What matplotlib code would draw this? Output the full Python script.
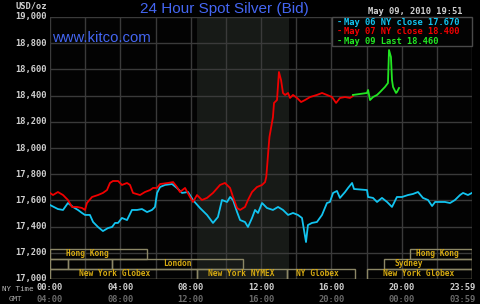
import matplotlib
matplotlib.use("Agg")
import matplotlib.pyplot as plt
from matplotlib.patches import Rectangle

# ---------------- data (hours since 00:00 NY time, USD/oz) ----------------
cyan_h = [0, 0.45, 0.74, 1.02, 1.31, 1.59, 1.82, 1.99, 2.27, 2.45, 2.73, 3.01, 3.30, 3.53,
          3.70, 3.87, 4.09, 4.38, 4.66, 4.95, 5.23, 5.52, 5.80, 5.97, 6.09, 6.26, 6.54, 6.94,
          7.22, 7.51, 7.85, 8.13, 8.53, 8.93, 9.27, 9.55, 9.78, 10.07, 10.24, 10.41, 10.64,
          10.81, 11.09, 11.26, 11.49, 11.66, 11.83, 12.06, 12.34, 12.68, 12.97, 13.25, 13.54,
          13.82, 14.10, 14.33, 14.56, 14.67, 14.90, 15.18, 15.47, 15.75, 15.92, 16.10, 16.32,
          16.49, 16.78, 16.95, 17.18, 17.29, 18.03, 18.09, 18.37, 18.60, 18.88, 19.17, 19.45,
          19.73, 20.02, 20.36, 20.64, 20.93, 21.21, 21.50, 21.73, 21.90, 22.18, 22.46, 22.75,
          23.03, 23.32, 23.49, 23.77, 24.0]
cyan_v = [17565, 17534, 17527, 17580, 17550, 17527, 17504, 17489, 17489, 17435, 17397, 17366,
          17389, 17397, 17428, 17428, 17466, 17450, 17527, 17527, 17534, 17511, 17527, 17550,
          17657, 17702, 17718, 17725, 17695, 17657, 17664, 17603, 17542, 17489, 17428, 17473,
          17603, 17588, 17626, 17603, 17511, 17450, 17435, 17397, 17466, 17527, 17504, 17580,
          17542, 17527, 17550, 17527, 17489, 17504, 17489, 17466, 17282, 17412, 17428, 17435,
          17489, 17580, 17588, 17657, 17672, 17619, 17664, 17695, 17733, 17687, 17679, 17626,
          17619, 17588, 17619, 17588, 17550, 17626, 17626, 17641, 17649, 17664, 17619, 17603,
          17557, 17588, 17588, 17588, 17580, 17603, 17641, 17657, 17641, 17657]

red_h = [0, 0.17, 0.45, 0.74, 1.02, 1.25, 1.54, 1.82, 1.99, 2.10, 2.39, 2.73, 3.01, 3.24,
         3.41, 3.58, 3.87, 4.09, 4.38, 4.55, 4.72, 5.12, 5.40, 5.69, 5.86, 6.09, 6.26, 6.71,
         7.00, 7.22, 7.39, 7.68, 7.96, 8.13, 8.36, 8.64, 8.93, 9.27, 9.67, 9.95, 10.24, 10.41,
         10.64, 10.81, 11.09, 11.26, 11.49, 11.77, 12.06, 12.23, 12.30, 12.36, 12.42, 12.48,
         12.55, 12.68, 12.74, 12.91, 13.02, 13.14, 13.25, 13.37, 13.54, 13.65, 13.82, 14.05,
         14.28, 14.50, 14.79, 15.18, 15.47, 15.75, 16.04, 16.27, 16.49, 16.78, 17.06, 17.23]
red_v = [17657, 17641, 17664, 17641, 17603, 17550, 17550, 17542, 17527, 17580, 17626, 17641,
         17657, 17679, 17733, 17748, 17748, 17718, 17733, 17718, 17657, 17641, 17664, 17679,
         17695, 17695, 17725, 17733, 17740, 17702, 17664, 17695, 17626, 17588, 17641, 17603,
         17619, 17657, 17718, 17733, 17695, 17626, 17542, 17527, 17550, 17603, 17664, 17702,
         17718, 17740, 17780, 17880, 17985, 18084, 18137, 18237, 18344, 18366, 18580, 18519,
         18420, 18405, 18420, 18382, 18405, 18382, 18351, 18366, 18389, 18405, 18420, 18405,
         18389, 18344, 18382, 18389, 18382, 18397]

green_h = [17.23, 18.03, 18.09, 18.20, 18.37, 18.60, 18.77, 19.05, 19.22, 19.28, 19.39,
           19.45, 19.51, 19.68, 19.73, 19.85]
green_v = [18405, 18420, 18443, 18366, 18389, 18405, 18427, 18466, 18496, 18748, 18695,
           18519, 18466, 18420, 18427, 18458]

legend_labels = ["May 06 NY close 17.670", "May 07 NY close 18.400", "May 09 Last 18.460"]

y_ticks = [17000, 17200, 17400, 17600, 17800, 18000, 18200, 18400, 18600, 18800, 19000]
x_ticks = [0, 4, 8, 12, 16, 20, 24]
ny_labels = ["00:00", "04:00", "08:00", "12:00", "16:00", "20:00", "23:59"]
gmt_labels = ["04:00", "08:00", "12:00", "16:00", "20:00", "00:00", "03:59"]

# trading sessions: (row, start hour, end hour, label, label centre hour)
sessions = [
    (0, 0.0, 5.5, "Hong Kong", 2.13),
    (0, 20.5, 24.0, "Hong Kong", 22.04),
    (1, 0.0, 1.0, "", 0.5),
    (1, 1.0, 3.5, "", 2.25),
    (1, 3.5, 11.0, "London", 7.22),
    (1, 19.0, 24.0, "Sydney", 20.42),
    (2, 0.0, 8.35, "New York Globex", 3.67),
    (2, 8.35, 13.5, "New York NYMEX", 10.9),
    (2, 13.5, 17.35, "NY Globex", 15.2),
    (2, 18.0, 24.0, "New York Globex", 20.96),
]
row_bounds = [(17155, 17230), (17078, 17155), (17000, 17078)]
nymex_shade = (8.35, 13.6)

# ---------------- figure ----------------
W, H = 480, 304
fig = plt.figure(figsize=(W / 100, H / 100), dpi=100, facecolor="black")
ax = fig.add_axes([50 / W, 1 - 279 / H, 422 / W, 262 / H], facecolor="#030303")

def fx(x):
    return x / W

def fy(y):
    return 1 - y / H

ax.set_xlim(0, 24)
ax.set_ylim(17000, 19000)
for s in ax.spines.values():
    s.set_visible(False)
ax.set_xticks([])
ax.set_yticks([])

grid_c = "#3a3a3a"
for h in range(0, 25, 2):
    ax.axvline(h, color=grid_c, lw=1.0, zorder=1)
for v in y_ticks:
    ax.axhline(v, color=grid_c, lw=1.0, zorder=1)

ax.axvspan(nymex_shade[0], nymex_shade[1], color="#171a17", zorder=0.5, lw=0)

# sessions
box_edge = "#8c8766"
text_gold = "#d6aa12"
for row, h0, h1, lab, hc in sessions:
    lo, hi = row_bounds[row]
    ax.add_patch(Rectangle((h0, lo), h1 - h0, hi - lo, fill=False, ec=box_edge, lw=1.0, zorder=2))
    if lab:
        ax.text(hc, (lo + hi) / 2, lab, ha="center", va="center", color=text_gold,
                fontsize=5.7, family="DejaVu Sans Mono", weight="bold", zorder=3)

# series
ax.plot(cyan_h, cyan_v, color="#12c4f0", lw=1.3, zorder=4)
ax.plot(red_h, red_v, color="#f00000", lw=1.3, zorder=5)
ax.plot(green_h, green_v, color="#22e622", lw=1.3, zorder=6)

# legend box
leg = Rectangle((fx(332), fy(46)), fx(472) - fx(332), fy(17) - fy(46), transform=fig.transFigure,
                facecolor="#030303", edgecolor="#4a4a4a", lw=1.0, zorder=10)
fig.patches.append(leg)
leg_cols = ["#12c4f0", "#f00000", "#22e622"]
leg_y = [22.8, 31.8, 41.5]
for lab, c, yy in zip(legend_labels, leg_cols, leg_y):
    fig.text(fx(336.5), fy(yy), "-", color=c, fontsize=6.3, family="DejaVu Sans Mono",
             weight="bold", ha="left", va="center", zorder=11)
    fig.text(fx(343.5), fy(yy), lab, color=c, fontsize=6.3, family="DejaVu Sans Mono",
             weight="bold", ha="left", va="center", zorder=11)

# y tick labels
for v in y_ticks:
    ypix = 279 - (v - 17000) / 2000 * 262
    fig.text(fx(46.5), fy(ypix), f"{v:,}", color="#d0d0d0", fontsize=6.3,
             family="DejaVu Sans Mono", weight="bold", ha="right", va="center")

# x tick labels
for h, a, b in zip(x_ticks, ny_labels, gmt_labels):
    xpix = 50 + h * 422 / 24
    if h == 24:
        xpix = 463
    fig.text(fx(xpix), fy(287.5), a, color="#d0d0d0", fontsize=6.3, family="DejaVu Sans Mono",
             weight="bold", ha="center", va="center")
    fig.text(fx(xpix), fy(299), b, color="#6a6a6a", fontsize=6.3, family="DejaVu Sans Mono",
             weight="bold", ha="center", va="center")
fig.text(fx(2.5), fy(289), "NY Time", color="#b8b8b8", fontsize=5.4, family="DejaVu Sans Mono",
         ha="left", va="center")
fig.text(fx(9), fy(299), "GMT", color="#a8a8a8", fontsize=5.4, family="DejaVu Sans Mono",
         ha="left", va="center")

# header texts
fig.text(fx(15), fy(6.3), "USD/oz", color="#d0d0d0", fontsize=6.3, family="DejaVu Sans Mono",
         weight="bold", ha="left", va="center")
fig.text(fx(463), fy(11.7), "May 09, 2010 19:51", color="#d0d0d0", fontsize=6.3,
         family="DejaVu Sans Mono", weight="bold", ha="right", va="center")
fig.text(fx(224.5), fy(9), "24 Hour Spot Silver (Bid)", color="#4466f2", fontsize=11,
         family="Liberation Sans", ha="center", va="center")
fig.text(fx(52), fy(37.5), "www.kitco.com", color="#4466f2", fontsize=10.7,
         family="Liberation Sans", ha="left", va="center", zorder=7)

fig.savefig("out.png", dpi=100, facecolor="black")
